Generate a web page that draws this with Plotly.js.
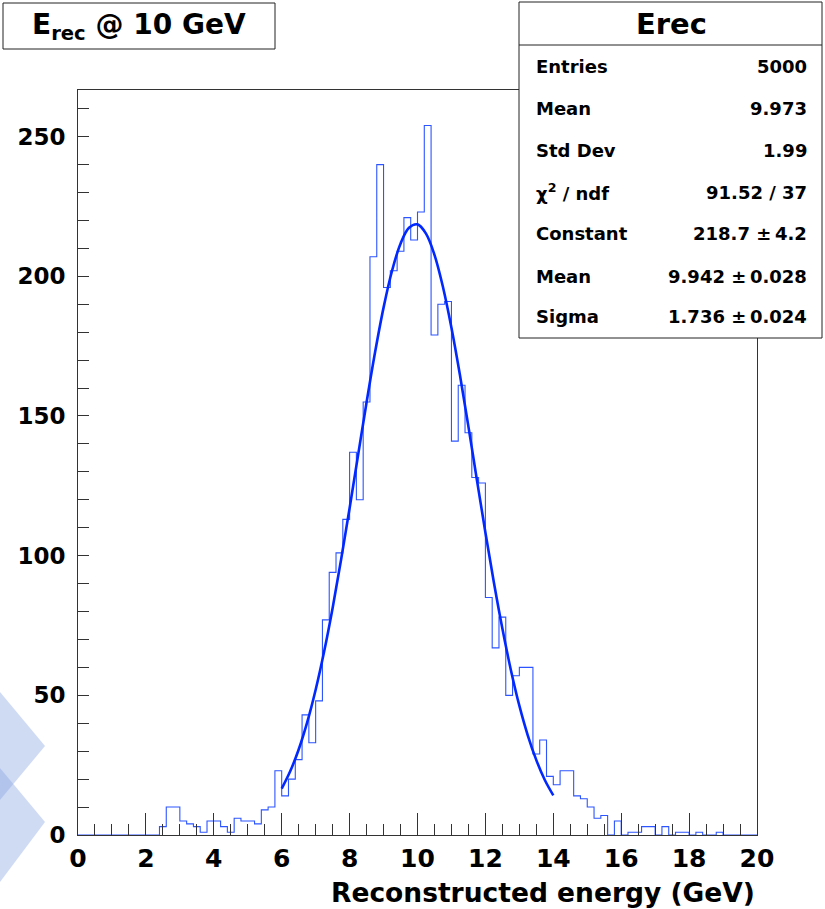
<!DOCTYPE html>
<html>
<head>
<meta charset="utf-8">
<script src="https://cdn.plot.ly/plotly-3.0.1.min.js"></script>
<style>
  html, body { margin: 0; padding: 0; background: #ffffff; }
  #chart { width: 825px; height: 909px; }
</style>
</head>
<body>
<div id="chart"></div>
<script>
// ---- Histogram definition (ROOT TH1: 100 bins from 0 to 20 GeV) ----
const nBins = 100;
const xLow = 0;
const xHigh = 20;

// Bin contents (bins of 0.2 GeV)
const counts = [
  0, 0, 0, 0, 0, 0, 0, 0, 0, 0,
  0, 0, 3, 10, 10, 5, 4, 3, 1, 5,
  5, 3, 1, 6, 5, 5, 4, 9, 10, 23,
  14, 20, 27, 43, 33, 48, 77, 94, 101, 113,
  137, 120, 155, 207, 240, 196, 202, 209, 221, 213,
  223, 254, 179, 190, 191, 141, 161, 144, 128, 126,
  85, 67, 78, 50, 57, 60, 60, 29, 34, 21,
  18, 23, 23, 14, 13, 10, 6, 7, 0, 5,
  0, 1, 1, 3, 3, 0, 3, 0, 1, 1,
  0, 1, 0, 0, 1, 0, 0, 0, 0, 0
];

// Gaussian fit curve (fit range 6-14 GeV)
const fitX = [6.0, 6.25, 6.5, 6.75, 7.0, 7.25, 7.5, 7.75, 8.0, 8.25, 8.5, 8.75,
              9.0, 9.25, 9.5, 9.75, 10.0, 10.25, 10.5, 10.75, 11.0, 11.25, 11.5,
              11.75, 12.0, 12.25, 12.5, 12.75, 13.0, 13.25, 13.5, 13.75, 14.0];
const fitY = [16.6, 22.8, 30.6, 40.3, 52.0, 65.7, 81.3, 98.6, 117.0, 136.0, 154.9, 172.8,
              188.8, 202.0, 211.7, 217.4, 218.6, 215.3, 207.7, 196.2, 181.6, 164.7, 146.2,
              127.1, 108.3, 90.4, 73.9, 59.1, 46.3, 35.6, 26.8, 19.7, 14.2];

// Axis tick values / labels
const xTickVals = [0, 2, 4, 6, 8, 10, 12, 14, 16, 18, 20];
const yTickVals = [0, 50, 100, 150, 200, 250];

// Stats box content
const statsTitle = "Erec";
const statsLabels = ["Entries", "Mean", "Std Dev", "χ<sup>2</sup> / ndf", "Constant", "Mean", "Sigma"];
const statsValues = ["5000", "9.973", "1.99", "91.52 / 37", "218.7 ±\u20094.2", "9.942 ±\u20090.028", "1.736 ±\u20090.024"];

const histTitle = "E<sub>rec</sub> @ 10 GeV";
const xAxisTitle = "Reconstructed energy (GeV)";

// ---- Build step outline from the bin contents ----
const binW = (xHigh - xLow) / nBins;
const stepX = [], stepY = [];
for (let i = 0; i < nBins; i++) {
  stepX.push(xLow + i * binW);
  stepY.push(counts[i]);
}
stepX.push(xHigh);
stepY.push(counts[nBins - 1]);

const yMax = Math.max(...counts) * 1.05;

// ---- Page geometry (pixels) ----
const W = 825, H = 909;
const L = 78, R = 757, T = 90, B = 835;
const px = p => (p - L) / (R - L);
const py = p => (B - p) / (B - T);

const FONT = "DejaVu Sans, Liberation Sans, Arial, sans-serif";

const traces = [
  {
    type: "scatter", mode: "lines",
    x: stepX, y: stepY,
    line: { shape: "hv", color: "rgb(45,85,255)", width: 1.1 },
    hoverinfo: "skip", showlegend: false
  },
  {
    type: "scatter", mode: "lines",
    x: fitX, y: fitY,
    line: { shape: "spline", smoothing: 1, color: "rgb(0,40,255)", width: 2.6 },
    hoverinfo: "skip", showlegend: false
  }
];

const shapes = [
  // decorative chevrons at the lower left
  { type: "path", xref: "paper", yref: "paper", layer: "below",
    path: `M ${px(0)},${py(692)} L ${px(45)},${py(746)} L ${px(0)},${py(800)} Z`,
    fillcolor: "rgba(140,168,226,0.42)", line: { width: 0 } },
  { type: "path", xref: "paper", yref: "paper", layer: "below",
    path: `M ${px(0)},${py(768)} L ${px(45)},${py(822)} L ${px(0)},${py(882)} Z`,
    fillcolor: "rgba(140,168,226,0.42)", line: { width: 0 } },
  // histogram title box
  { type: "rect", xref: "paper", yref: "paper", layer: "above",
    x0: px(3), x1: px(275), y0: py(49), y1: py(3),
    fillcolor: "#ffffff", line: { color: "#222", width: 1 } },
  // stats box
  { type: "rect", xref: "paper", yref: "paper", layer: "above",
    x0: px(519), x1: px(822), y0: py(338), y1: py(2),
    fillcolor: "#ffffff", line: { color: "#222", width: 1 } },
  { type: "line", xref: "paper", yref: "paper", layer: "above",
    x0: px(519), x1: px(822), y0: py(45), y1: py(45),
    line: { color: "#222", width: 1 } }
];

const annotations = [
  { xref: "paper", yref: "paper", x: px(139), y: py(26), xanchor: "center", yanchor: "middle",
    text: histTitle, showarrow: false,
    font: { family: FONT, size: 28, weight: "bold", color: "#000" } },
  { xref: "paper", yref: "paper", x: px(671), y: py(24), xanchor: "center", yanchor: "middle",
    text: statsTitle, showarrow: false,
    font: { family: FONT, size: 29, weight: "bold", color: "#000" } },
  { xref: "paper", yref: "paper", x: px(757), y: py(892), xanchor: "right", yanchor: "middle",
    text: xAxisTitle, showarrow: false,
    font: { family: FONT, size: 26.5, weight: "bold", color: "#000" } }
];
const rowY = [67, 109, 150, 192, 233, 276, 316];
statsLabels.forEach((t, i) => {
  annotations.push({ xref: "paper", yref: "paper", x: px(534), y: py(rowY[i]),
    xanchor: "left", yanchor: "middle", text: t, showarrow: false,
    font: { family: FONT, size: 18, weight: "bold", color: "#000" } });
  annotations.push({ xref: "paper", yref: "paper", x: px(809), y: py(rowY[i]),
    xanchor: "right", yanchor: "middle", text: statsValues[i], showarrow: false,
    font: { family: FONT, size: 18, weight: "bold", color: "#000" } });
});

const layout = {
  width: W, height: H,
  margin: { l: L, r: W - R, t: T, b: H - B, pad: 0 },
  paper_bgcolor: "#ffffff", plot_bgcolor: "#ffffff",
  showlegend: false,
  xaxis: {
    range: [xLow, xHigh], tickvals: xTickVals, ticktext: xTickVals.map(String),
    ticks: "inside", ticklen: 22, tickwidth: 1, tickcolor: "#333",
    minor: { dtick: 0.5, ticklen: 11, tickwidth: 1, tickcolor: "#333", ticks: "inside" },
    showline: true, linecolor: "#333", linewidth: 1, mirror: true,
    showgrid: false, zeroline: false,
    ticklabelstandoff: 1,
    tickfont: { family: FONT, size: 25, weight: "bold", color: "#000" }
  },
  yaxis: {
    range: [0, yMax], tickvals: yTickVals, ticktext: yTickVals.map(String),
    ticks: "inside", ticklen: 11, tickwidth: 1, tickcolor: "#333",
    minor: { dtick: 10, ticklen: 11, tickwidth: 1, tickcolor: "#333", ticks: "inside" },
    showline: true, linecolor: "#333", linewidth: 1, mirror: true,
    showgrid: false, zeroline: false,
    ticklabelstandoff: 7,
    tickfont: { family: FONT, size: 23, weight: "bold", color: "#000" }
  },
  shapes: shapes,
  annotations: annotations
};

Plotly.newPlot("chart", traces, layout, { staticPlot: true, displayModeBar: false });
</script>
</body>
</html>
